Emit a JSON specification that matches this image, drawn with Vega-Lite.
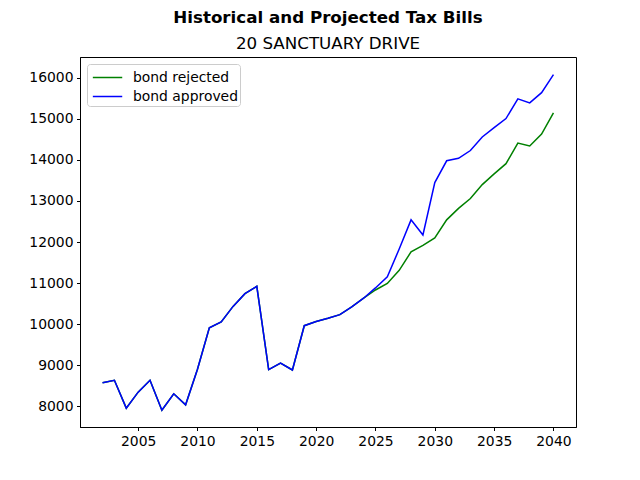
{
  "$schema": "https://vega.github.io/schema/vega-lite/v6.json",
  "width": 496,
  "height": 370,
  "autosize": {"type": "none"},
  "padding": {"left": 80, "top": 57, "right": 64, "bottom": 53},
  "background": "white",
  "title": {
    "text": "Historical and Projected Tax Bills",
    "subtitle": "20 SANCTUARY DRIVE",
    "anchor": "middle",
    "frame": "group",
    "font": "DejaVu Sans",
    "fontSize": 16.7,
    "fontWeight": "bold",
    "color": "black",
    "subtitleFont": "DejaVu Sans",
    "subtitleFontSize": 16.7,
    "subtitleColor": "black",
    "subtitlePadding": 10,
    "offset": 4
  },
  "data": {
    "values": [
      {"year": 2002, "bond rejected": 8570, "bond approved": 8570},
      {"year": 2003, "bond rejected": 8630, "bond approved": 8630},
      {"year": 2004, "bond rejected": 7950, "bond approved": 7950},
      {"year": 2005, "bond rejected": 8340, "bond approved": 8340},
      {"year": 2006, "bond rejected": 8630, "bond approved": 8630},
      {"year": 2007, "bond rejected": 7900, "bond approved": 7900},
      {"year": 2008, "bond rejected": 8300, "bond approved": 8300},
      {"year": 2009, "bond rejected": 8030, "bond approved": 8030},
      {"year": 2010, "bond rejected": 8900, "bond approved": 8900},
      {"year": 2011, "bond rejected": 9910, "bond approved": 9910},
      {"year": 2012, "bond rejected": 10050, "bond approved": 10050},
      {"year": 2013, "bond rejected": 10430, "bond approved": 10430},
      {"year": 2014, "bond rejected": 10740, "bond approved": 10740},
      {"year": 2015, "bond rejected": 10920, "bond approved": 10920},
      {"year": 2016, "bond rejected": 8890, "bond approved": 8890},
      {"year": 2017, "bond rejected": 9050, "bond approved": 9050},
      {"year": 2018, "bond rejected": 8880, "bond approved": 8880},
      {"year": 2019, "bond rejected": 9960, "bond approved": 9960},
      {"year": 2020, "bond rejected": 10060, "bond approved": 10060},
      {"year": 2021, "bond rejected": 10140, "bond approved": 10140},
      {"year": 2022, "bond rejected": 10230, "bond approved": 10230},
      {"year": 2023, "bond rejected": 10420, "bond approved": 10420},
      {"year": 2024, "bond rejected": 10630, "bond approved": 10630},
      {"year": 2025, "bond rejected": 10830, "bond approved": 10880},
      {"year": 2026, "bond rejected": 10990, "bond approved": 11150},
      {"year": 2027, "bond rejected": 11310, "bond approved": 11830},
      {"year": 2028, "bond rejected": 11760, "bond approved": 12540},
      {"year": 2029, "bond rejected": 11920, "bond approved": 12170},
      {"year": 2030, "bond rejected": 12100, "bond approved": 13450},
      {"year": 2031, "bond rejected": 12540, "bond approved": 13980},
      {"year": 2032, "bond rejected": 12820, "bond approved": 14040},
      {"year": 2033, "bond rejected": 13060, "bond approved": 14230},
      {"year": 2034, "bond rejected": 13400, "bond approved": 14560},
      {"year": 2035, "bond rejected": 13660, "bond approved": 14790},
      {"year": 2036, "bond rejected": 13910, "bond approved": 15010},
      {"year": 2037, "bond rejected": 14410, "bond approved": 15490},
      {"year": 2038, "bond rejected": 14340, "bond approved": 15390},
      {"year": 2039, "bond rejected": 14630, "bond approved": 15640},
      {"year": 2040, "bond rejected": 15150, "bond approved": 16080}
    ]
  },
  "transform": [
    {"fold": ["bond rejected", "bond approved"], "as": ["scenario", "bill"]}
  ],
  "mark": {"type": "line", "strokeWidth": 1.5, "clip": true},
  "encoding": {
    "x": {
      "field": "year",
      "type": "quantitative",
      "scale": {"domain": [2000.1, 2041.9], "nice": false, "zero": false},
      "axis": {"values": [2005, 2010, 2015, 2020, 2025, 2030, 2035, 2040], "format": "d", "title": null}
    },
    "y": {
      "field": "bill",
      "type": "quantitative",
      "scale": {"domain": [7490, 16510], "nice": false, "zero": false},
      "axis": {"values": [8000, 9000, 10000, 11000, 12000, 13000, 14000, 15000, 16000], "format": "d", "title": null}
    },
    "color": {
      "field": "scenario",
      "type": "nominal",
      "scale": {"domain": ["bond rejected", "bond approved"], "range": ["#008000", "#0000ff"]},
      "legend": {
        "title": null,
        "orient": "top-left",
        "offset": 7,
        "symbolType": "M-0.73,0H2.07",
        "symbolSize": 441,
        "symbolStrokeWidth": 1.5,
        "labelFont": "DejaVu Sans",
        "labelFontSize": 13.9,
        "labelColor": "black",
        "labelOffset": 21,
        "rowPadding": 0,
        "padding": 2,
        "fillColor": "rgba(255,255,255,0.8)",
        "strokeColor": "#cccccc",
        "cornerRadius": 3
      }
    }
  },
  "config": {
    "view": {"stroke": "black", "strokeWidth": 1},
    "axis": {
      "grid": false,
      "domainColor": "black",
      "domainWidth": 1,
      "tickColor": "black",
      "tickSize": 3.5,
      "tickWidth": 1,
      "labelFont": "DejaVu Sans",
      "labelFontSize": 13.9,
      "labelColor": "black",
      "labelPadding": 3.5
    }
  }
}
